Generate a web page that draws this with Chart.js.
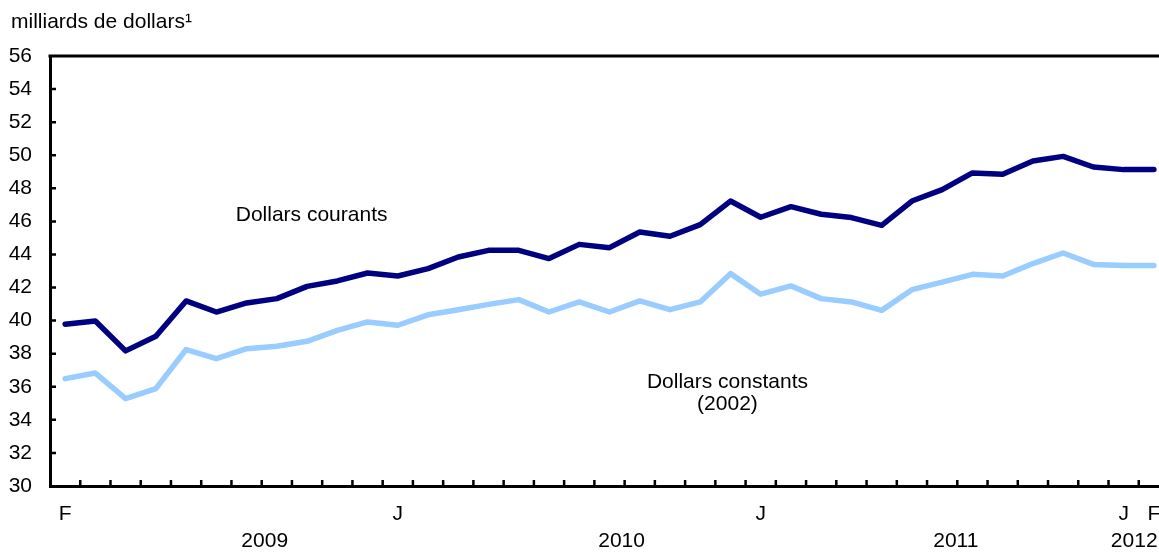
<!DOCTYPE html>
<html lang="fr">
<head>
<meta charset="utf-8">
<title>milliards de dollars</title>
<script src="https://cdn.jsdelivr.net/npm/chart.js@4/dist/chart.umd.min.js"></script>
<style>
  html, body { margin: 0; padding: 0; background: #fff; overflow: hidden; }
  #wrap { width: 1170px; height: 553px; position: relative; }
</style>
</head>
<body>
<div id="wrap"><canvas id="salesChart"></canvas></div>
<script>
const months = [
    '2009-02', '2009-03', '2009-04', '2009-05', '2009-06', '2009-07', '2009-08', '2009-09', '2009-10', '2009-11', '2009-12',
    '2010-01', '2010-02', '2010-03', '2010-04', '2010-05', '2010-06', '2010-07', '2010-08', '2010-09', '2010-10', '2010-11', '2010-12',
    '2011-01', '2011-02', '2011-03', '2011-04', '2011-05', '2011-06', '2011-07', '2011-08', '2011-09', '2011-10', '2011-11', '2011-12',
    '2012-01', '2012-02',
];
const monthLetters = [
    'F', '', '', '', '', '', '', '', '', '', '',
    'J', '', '', '', '', '', '', '', '', '', '', '',
    'J', '', '', '', '', '', '', '', '', '', '', '',
    'J', 'F',
];
const currentDollars = [
    39.78, 39.98, 38.17, 39.05, 41.19, 40.52, 41.07, 41.33, 42.07, 42.40, 42.88,
    42.70, 43.14, 43.85, 44.25, 44.25, 43.75, 44.61, 44.41, 45.36, 45.10, 45.80, 47.23,
    46.25, 46.89, 46.43, 46.23, 45.76, 47.23, 47.92, 48.93, 48.85, 49.65, 49.93, 49.29,
    49.13, 49.13,
];
const constantDollars = [
    36.49, 36.83, 35.28, 35.89, 38.25, 37.70, 38.30, 38.45, 38.75, 39.41, 39.92,
    39.72, 40.35, 40.66, 40.98, 41.27, 40.52, 41.13, 40.52, 41.19, 40.66, 41.13, 42.84,
    41.60, 42.10, 41.33, 41.13, 40.62, 41.87, 42.33, 42.80, 42.70, 43.45, 44.09, 43.40,
    43.34, 43.34,
];
const yTicks = [30, 32, 34, 36, 38, 40, 42, 44, 46, 48, 50, 52, 54, 56];
const years = ['2009', '2010', '2011', '2012'];
const yearAt = [6.6, 18.4, 29.45, 35.35];
const seriesNotes = [
    { lines: ['Dollars courants'], at: 8.15, value: 46.37 },
    { lines: ['Dollars constants', '(2002)'], at: 21.9, value: 36.27 },
];
const unitLabel = 'milliards de dollars\u00b9';

const FONT = "'Liberation Sans', Arial, Helvetica, sans-serif";
Chart.defaults.font.family = FONT;
Chart.defaults.font.size = 21;
Chart.defaults.color = '#000';

// cadre du haut, petites graduations intérieures, années et étiquettes
const decorations = {
    id: 'decorations',
    afterDraw(chart) {
        const { ctx, chartArea: area, scales: { x, y } } = chart;
        ctx.save();
        ctx.strokeStyle = '#000';
        ctx.lineWidth = 3;
        ctx.beginPath();
        ctx.moveTo(area.left - 1.5, area.top);
        ctx.lineTo(area.right + 2, area.top);
        ctx.stroke();

        ctx.lineWidth = 2.5;
        ctx.beginPath();
        yTicks.forEach(v => {
            if (v === 30 || v === 56) return;
            const py = y.getPixelForValue(v);
            ctx.moveTo(area.left, py);
            ctx.lineTo(area.left + 6, py);
        });
        for (let i = 0; i < months.length - 1; i++) {
            const px = x.getPixelForValue(i + 0.5);
            ctx.moveTo(px, area.bottom);
            ctx.lineTo(px, area.bottom - 6);
        }
        ctx.stroke();

        ctx.fillStyle = '#000';
        ctx.font = '21px ' + FONT;
        ctx.textAlign = 'center';
        ctx.textBaseline = 'alphabetic';
        years.forEach((label, i) => {
            ctx.fillText(label, x.getPixelForValue(yearAt[i]), area.bottom + 61);
        });

        ctx.textBaseline = 'middle';
        seriesNotes.forEach(note => {
            const cx = x.getPixelForValue(note.at);
            const cy = y.getPixelForValue(note.value);
            note.lines.forEach((line, k) => {
                ctx.fillText(line, cx, cy + k * 22);
            });
        });

        ctx.textAlign = 'left';
        ctx.textBaseline = 'alphabetic';
        ctx.fillText(unitLabel, 11, 28);
        ctx.restore();
    },
};

new Chart(document.getElementById('salesChart'), {
    type: 'line',
    data: {
        labels: months,
        datasets: [
            {
                label: 'Dollars courants',
                data: currentDollars,
                borderColor: '#000080',
                backgroundColor: '#000080',
                borderWidth: 5.5,
                pointRadius: 0,
                tension: 0,
                borderCapStyle: 'round',
                borderJoinStyle: 'round',
            },
            {
                label: 'Dollars constants (2002)',
                data: constantDollars,
                borderColor: '#99ccff',
                backgroundColor: '#99ccff',
                borderWidth: 5.5,
                pointRadius: 0,
                tension: 0,
                borderCapStyle: 'round',
                borderJoinStyle: 'round',
            },
        ],
    },
    options: {
        responsive: true,
        maintainAspectRatio: false,
        animation: false,
        layout: { padding: { top: 56, right: 1, left: 0, bottom: 0 } },
        plugins: {
            legend: { display: false },
            tooltip: { enabled: false },
        },
        scales: {
            x: {
                offset: true,
                grid: { display: false, offset: true },
                border: { display: true, color: '#000', width: 3 },
                ticks: {
                    autoSkip: false,
                    maxRotation: 0,
                    minRotation: 0,
                    padding: 8,
                    font: { size: 21 },
                    callback: (value, index) => monthLetters[index],
                },
                afterFit(scale) { scale.height = 67; },
            },
            y: {
                min: 30,
                max: 56,
                grid: { display: false },
                border: { display: true, color: '#000', width: 3 },
                ticks: {
                    stepSize: 2,
                    padding: 10,
                    font: { size: 21 },
                },
                afterBuildTicks(scale) { scale.ticks = yTicks.map(v => ({ value: v })); },
                afterFit(scale) { scale.width = 50; },
            },
        },
    },
    plugins: [decorations],
});
</script>
</body>
</html>
